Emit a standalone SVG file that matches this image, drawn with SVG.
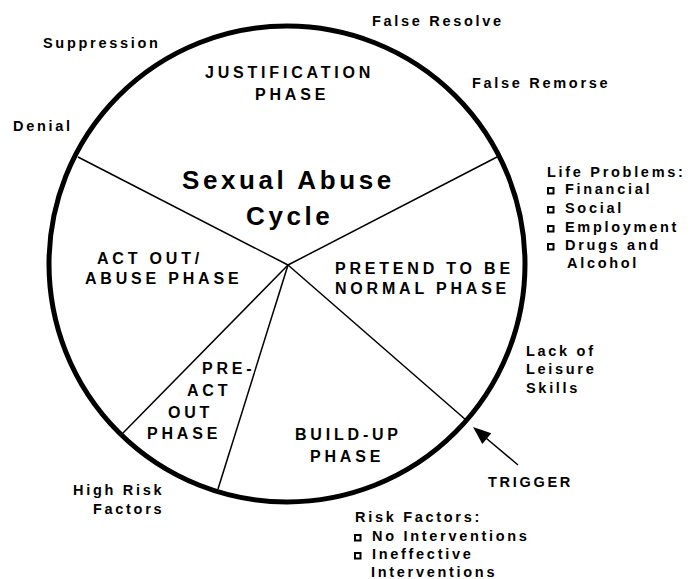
<svg xmlns="http://www.w3.org/2000/svg" width="693" height="579" viewBox="0 0 693 579">
<style>
text{font-family:"Liberation Sans",Arial,sans-serif;font-weight:bold;fill:#000}
.ph{font-size:16px;letter-spacing:3.8px}
.lb{font-size:14.5px;letter-spacing:2.7px}
.ti{font-size:26px;letter-spacing:3.6px}
.sp{stroke:#000;stroke-width:1.5;fill:none}
.bl{fill:none;stroke:#000;stroke-width:2}
</style>
<rect width="693" height="579" fill="#fff"/>
<g id="connectors">
<line class="sp" x1="288" y1="265" x2="78" y2="157"/>
<line class="sp" x1="288" y1="265" x2="497" y2="157"/>
<line class="sp" x1="288" y1="265" x2="466" y2="420"/>
<line class="sp" x1="288" y1="265" x2="218" y2="489"/>
<line class="sp" x1="288" y1="265" x2="123" y2="433"/>
<line id="trigger-arrow" x1="518" y1="465" x2="480" y2="433" stroke="#000" stroke-width="1.5"/>
<path d="M473,427 L491.3,433.3 L482.3,443.9 Z" fill="#000"/>
</g>
<g id="cycle">
<circle cx="287" cy="264" r="238" fill="none" stroke="#000" stroke-width="5"/>
</g>
<g id="title">
<text class="ti" x="182" y="189">Sexual Abuse</text>
<text class="ti" x="246" y="225">Cycle</text>
</g>
<g id="justification">
<text class="ph" x="205" y="78">JUSTIFICATION</text>
<text class="ph" x="255" y="100">PHASE</text>
</g>
<g id="act-out">
<text class="ph" x="97" y="264">ACT OUT/</text>
<text class="ph" x="85" y="284">ABUSE PHASE</text>
</g>
<g id="pretend">
<text class="ph" x="335" y="274">PRETEND TO BE</text>
<text class="ph" x="335" y="294">NORMAL PHASE</text>
</g>
<g id="pre-act-out">
<text class="ph" x="202" y="374">PRE-</text>
<text class="ph" x="187" y="396">ACT</text>
<text class="ph" x="168" y="418">OUT</text>
<text class="ph" x="147" y="439">PHASE</text>
</g>
<g id="build-up">
<text class="ph" x="295" y="440">BUILD-UP</text>
<text class="ph" x="310" y="462">PHASE</text>
</g>
<g id="labels">
<text class="lb" x="43" y="48">Suppression</text>
<text class="lb" x="13" y="131">Denial</text>
<text class="lb" x="372" y="26">False Resolve</text>
<text class="lb" x="472" y="88">False Remorse</text>
<text class="lb" x="547" y="177">Life Problems:</text>
<rect class="bl" x="548" y="188" width="5.5" height="5.5"/>
<text class="lb" x="565" y="194">Financial</text>
<rect class="bl" x="548" y="207" width="5.5" height="5.5"/>
<text class="lb" x="565" y="213">Social</text>
<rect class="bl" x="548" y="226" width="5.5" height="5.5"/>
<text class="lb" x="565" y="232">Employment</text>
<rect class="bl" x="548" y="244" width="5.5" height="5.5"/>
<text class="lb" x="565" y="250">Drugs and</text>
<text class="lb" x="567" y="268">Alcohol</text>
<text class="lb" x="526" y="356">Lack of</text>
<text class="lb" x="526" y="374">Leisure</text>
<text class="lb" x="526" y="393">Skills</text>
<text class="lb" x="488" y="487">TRIGGER</text>
<text class="lb" x="73" y="495">High Risk</text>
<text class="lb" x="93" y="514">Factors</text>
<text class="lb" x="355" y="522">Risk Factors:</text>
<rect class="bl" x="355" y="535" width="5.5" height="5.5"/>
<text class="lb" x="372" y="541">No Interventions</text>
<rect class="bl" x="355" y="553" width="5.5" height="5.5"/>
<text class="lb" x="372" y="559">Ineffective</text>
<text class="lb" x="371" y="577">Interventions</text>
</g>
</svg>
